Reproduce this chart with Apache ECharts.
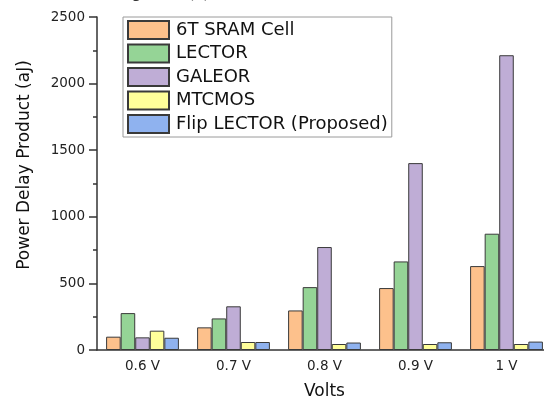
<!DOCTYPE html>
<html>
<head>
<meta charset="utf-8">
<script src="https://cdn.jsdelivr.net/npm/echarts@6/dist/echarts.min.js"></script>
<style>
  html, body { margin: 0; padding: 0; background: #fff; overflow: hidden; }
  #chart { width: 560px; height: 405px; }
</style>
</head>
<body>
<div id="chart"></div>
<script>
// Supply voltages on the x axis
const voltages = ['0.6 V', '0.7 V', '0.8 V', '0.9 V', '1 V'];

// Power delay product (aJ) per cell design
const sram6T      = [100, 170, 297, 465, 630];
const lector      = [277, 237, 472, 665, 873];
const galeor      = [95, 328, 773, 1403, 2213];
const mtcmos      = [145, 60, 45, 45, 45];
const flipLector  = [92, 60, 56, 58, 63];

const seriesNames  = ['6T SRAM Cell', 'LECTOR', 'GALEOR', 'MTCMOS', 'Flip LECTOR (Proposed)'];
const seriesColors = ['#FDC18C', '#95D496', '#BFADD6', '#FFFF9A', '#8FB2EF'];
const seriesValues = [sram6T, lector, galeor, mtcmos, flipLector];

const yTickValues = [0, 500, 1000, 1500, 2000, 2500];

const FONT = 'DejaVu Sans';
const chart = echarts.init(document.getElementById('chart'), null, { renderer: 'canvas' });

chart.setOption({
  animation: false,
  backgroundColor: '#ffffff',
  textStyle: { fontFamily: FONT },
  // the plot runs a little past the right edge of the visible page
  grid: { left: 97, top: 17, width: 455, height: 337, containLabel: false },
  legend: {
    orient: 'vertical',
    left: 123,
    top: 17,
    padding: [3, 4, 3, 4],
    borderColor: '#9a9a9a',
    borderWidth: 1,
    itemWidth: 41,
    itemHeight: 18,
    itemGap: 3.5,
    icon: 'rect',
    textStyle: { fontFamily: FONT, fontSize: 18, color: '#111', padding: [0, 0, 0, 2] },
    data: seriesNames
  },
  xAxis: [
    {
      type: 'category',
      data: voltages,
      name: 'Volts',
      nameLocation: 'middle',
      nameGap: 33,
      nameTextStyle: { fontFamily: FONT, fontSize: 17, color: '#111' },
      axisLine: { lineStyle: { color: '#333', width: 1.5 } },
      axisTick: { alignWithLabel: true, length: 6, lineStyle: { color: '#333', width: 1.5 } },
      axisLabel: { margin: 9, fontFamily: FONT, fontSize: 13.5, color: '#222' },
      splitLine: { show: false }
    },
    {
      // short ticks at the category boundaries
      type: 'category',
      data: voltages,
      position: 'bottom',
      axisLine: { show: false },
      axisTick: { inside: true, length: 3, lineStyle: { color: '#333', width: 1.5 } },
      axisLabel: { show: false },
      splitLine: { show: false }
    }
  ],
  yAxis: {
    type: 'value',
    min: yTickValues[0],
    max: yTickValues[yTickValues.length - 1],
    interval: 500,
    axisLine: { show: true, lineStyle: { color: '#333', width: 1.5 } },
    axisTick: { show: true, length: 8, lineStyle: { color: '#333', width: 1.5 } },
    minorTick: { show: true, splitNumber: 2, length: 4, lineStyle: { color: '#333', width: 1.5 } },
    axisLabel: {
      margin: 12,
      fontFamily: FONT,
      fontSize: 13.5,
      color: '#222',
      formatter: (v) => String(v)
    },
    splitLine: { show: false }
  },
  graphic: [
    {
      type: 'text',
      x: 25,
      y: 165,
      rotation: Math.PI / 2,
      style: {
        text: 'Power Delay Product (aJ)',
        font: '17px "DejaVu Sans"',
        fill: '#111',
        textAlign: 'center',
        textVerticalAlign: 'middle'
      }
    },
    {
      // caption line sitting just above the chart, only its lowest strokes show
      type: 'text',
      x: 119,
      y: 2,
      style: {
        text: 'Figure 4 (c)',
        font: '16px "DejaVu Sans"',
        fill: '#333',
        textAlign: 'left',
        textVerticalAlign: 'bottom'
      }
    }
  ],
  series: seriesNames.map((name, i) => ({
    name: name,
    type: 'bar',
    xAxisIndex: 0,
    data: seriesValues[i],
    barGap: '0%',
    barCategoryGap: '20%',
    itemStyle: { color: seriesColors[i], borderColor: '#3a3a3a', borderWidth: 1 }
  }))
});
</script>
</body>
</html>
